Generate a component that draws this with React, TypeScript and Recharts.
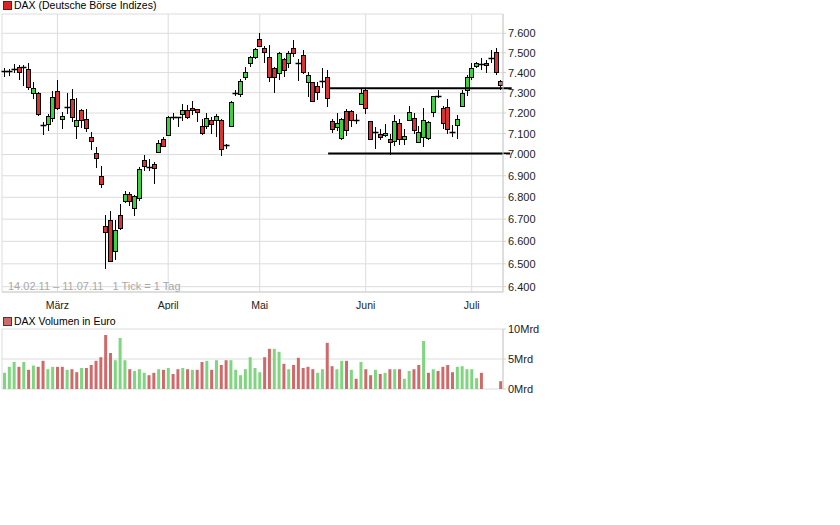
import { Bar, CartesianGrid, Cell, ComposedChart, ReferenceLine, XAxis, YAxis } from "recharts";

// trading days 14.02.11 - 11.07.11
const febDays = [14, 15, 16, 17, 18, 21, 22, 23, 24, 25, 28];
const marDays = [1, 2, 3, 4, 7, 8, 9, 10, 11, 14, 15, 16, 17, 18, 21, 22, 23, 24, 25, 28, 29, 30, 31];
const aprDays = [1, 4, 5, 6, 7, 8, 11, 12, 13, 14, 15, 18, 19, 20, 21, 26, 27, 28, 29];
const mayDays = [2, 3, 4, 5, 6, 9, 10, 11, 12, 13, 16, 17, 18, 19, 20, 23, 24, 25, 26, 27, 30, 31];
const junDays = [1, 2, 3, 6, 7, 8, 9, 10, 13, 14, 15, 16, 17, 20, 21, 22, 23, 24, 27, 28, 29, 30];
const julDays = [1, 4, 5, 6, 7, 8, 11];

const monthTicks = ["01.03.11", "01.04.11", "02.05.11", "01.06.11", "01.07.11"];
const monthNames = ["März", "April", "Mai", "Juni", "Juli"];

const open = [
  7405, 7408, 7412, 7430, 7428, 7417, 7297, 7297, 7140, 7145, 7175, 7310, 7171, 7228, 7267, 7137, 7213, 7172, 7084, 7008,
  6897, 6670, 6697, 6557, 6717, 6781, 6813, 6750, 6797, 6973, 6942, 6953, 7013, 7073, 7092, 7182, 7180, 7197, 7216, 7226,
  7218, 7135, 7137, 7164, 7167, 7168, 7045, 7137, 7300, 7293, 7377, 7450, 7477, 7572, 7522, 7477, 7422, 7397, 7467, 7450,
  7527, 7447, 7488, 7352, 7352, 7333, 7360, 7377, 7161, 7132, 7081, 7210, 7210, 7167, 7244, 7313, 7160, 7110, 7097, 7095,
  7076, 7065, 7152, 7076, 7168, 7176, 7060, 7084, 7081, 7205, 7285, 7226, 7232, 7110, 7140, 7233, 7313, 7377, 7433, 7443,
  7450, 7470, 7505, 7358,
];
const high = [
  7422, 7420, 7445, 7438, 7440, 7447, 7355, 7305, 7156, 7197, 7310, 7363, 7205, 7300, 7317, 7272, 7222, 7222, 7108, 7037,
  6948, 6717, 6735, 6697, 6767, 6828, 6826, 6810, 6940, 6997, 6980, 6965, 7068, 7084, 7184, 7200, 7182, 7245, 7237, 7257,
  7221, 7172, 7200, 7180, 7197, 7170, 7050, 7260, 7313, 7367, 7430, 7483, 7522, 7600, 7533, 7538, 7430, 7505, 7472, 7508,
  7567, 7467, 7513, 7405, 7355, 7355, 7422, 7413, 7173, 7200, 7177, 7221, 7216, 7194, 7322, 7322, 7162, 7132, 7124, 7148,
  7100, 7189, 7173, 7124, 7232, 7200, 7136, 7226, 7160, 7283, 7313, 7232, 7270, 7140, 7189, 7313, 7388, 7447, 7455, 7472,
  7463, 7513, 7527, 7363,
];
const low = [
  7380, 7385, 7400, 7363, 7333, 7313, 7270, 7185, 7092, 7113, 7156, 7213, 7124, 7197, 7156, 7076, 7129, 7108, 7021, 6937,
  6844, 6479, 6508, 6517, 6653, 6774, 6760, 6715, 6782, 6921, 6920, 6863, 7005, 7036, 7087, 7165, 7130, 7160, 7172, 7190,
  7155, 7092, 7124, 7100, 7084, 6992, 7026, 7137, 7283, 7280, 7363, 7430, 7467, 7530, 7450, 7355, 7297, 7363, 7380, 7425,
  7477, 7358, 7393, 7280, 7255, 7263, 7322, 7230, 7103, 7115, 7071, 7087, 7132, 7145, 7238, 7197, 7074, 7024, 7068, 7084,
  6997, 7040, 7044, 7044, 7165, 7097, 7055, 7035, 7071, 7180, 7272, 7124, 7100, 7084, 7076, 7230, 7283, 7363, 7422, 7413,
  7397, 7447, 7388, 7313,
];
const close = [
  7408, 7405, 7417, 7405, 7430, 7330, 7322, 7197, 7135, 7185, 7277, 7227, 7184, 7226, 7180, 7165, 7165, 7129, 7065, 6986,
  6863, 6644, 6511, 6653, 6662, 6813, 6781, 6805, 6932, 6945, 6940, 6937, 7057, 7041, 7180, 7180, 7179, 7216, 7180, 7213,
  7205, 7103, 7177, 7148, 7184, 7026, 7040, 7252, 7300, 7360, 7405, 7477, 7517, 7533, 7502, 7377, 7380, 7497, 7413, 7500,
  7497, 7443, 7405, 7388, 7260, 7305, 7358, 7272, 7124, 7152, 7173, 7116, 7165, 7163, 7297, 7223, 7076, 7108, 7084, 7105,
  7060, 7161, 7073, 7087, 7205, 7116, 7108, 7168, 7154, 7283, 7282, 7152, 7124, 7108, 7173, 7297, 7380, 7422, 7447, 7442,
  7438, 7473, 7405, 7338,
];

// Volumen in Mrd Euro (null = no value shown)
const volume = [
  2.7, 3.7, 4.5, 3.7, 4.5, 3.2, 3.9, 3.7, 4.7, 3.3, 3.7, 3.7, 3.7, 3.2, 3.3, 2.8, 3.5, 3.5, 4.0, 4.7,
  5.3, 9.0, 6.0, 4.8, 8.5, 4.8, 3.3, 3.0, 3.3, 2.7, 2.3, 2.7, 3.3, 3.2, 3.5, 2.5, 3.3, 3.5, 3.3, 3.2,
  3.2, 4.5, 4.7, 3.2, 4.8, 4.0, 4.8, 4.8, 3.2, 2.3, 3.3, 5.3, 3.5, 2.8, 5.3, 6.7, 6.7, 6.2, 4.2, 3.3,
  4.0, 5.2, 3.5, 3.7, 3.3, 2.7, 3.3, 7.7, 3.8, 3.3, 4.7, 4.7, 3.2, 1.7, 4.5, 3.3, 2.3, 3.2, 2.5, 2.7,
  3.3, 3.3, 3.3, 1.7, 3.0, 3.3, 4.0, 8.0, 2.7, 3.3, 3.0, 3.7, 4.0, 2.8, 3.7, 3.8, 3.3, 3.3, 1.8, 2.7,
  null, null, null, 1.3,
];
// g = close above previous close, r = below
const volumeDir =
  "gggrgrgrrggrrgrrgrrrrrrgggrgggrrgrgrrgrgrrgrgrrgggggggrrggrgrrrrrggrrggrgrgrrgrgrgrggrrgrgrrrrgggggr---r";

const priceTicks = [6400, 6500, 6600, 6700, 6800, 6900, 7000, 7100, 7200, 7300, 7400, 7500, 7600];
const volumeTicks = [0, 5, 10];

// hand drawn support / resistance lines (x in trading-day index)
const trendLines = [
  { x1: 67.4, x2: 105.3, y: 7322 },
  { x1: 67.2, x2: 105.0, y: 7005 },
];

const pad = (n: number) => String(n).padStart(2, "0");
const dates = [
  ...febDays.map((d) => `${pad(d)}.02.11`),
  ...marDays.map((d) => `${pad(d)}.03.11`),
  ...aprDays.map((d) => `${pad(d)}.04.11`),
  ...mayDays.map((d) => `${pad(d)}.05.11`),
  ...junDays.map((d) => `${pad(d)}.06.11`),
  ...julDays.map((d) => `${pad(d)}.07.11`),
];

const rows = dates.map((date, i) => ({
  i,
  date,
  o: open[i],
  h: high[i],
  l: low[i],
  c: close[i],
  range: [low[i], high[i]],
  vol: volume[i],
  dir: volumeDir[i],
  live: i === dates.length - 1,
}));

const fmtPrice = (v: number) => `${Math.floor(v / 1000)}.${String(v % 1000).padStart(3, "0")}`;

const GREEN = "#3cd23c";
const RED = "#d93434";
const LIVE = "#d06a6a";

function Candle(props: any) {
  const { x, y, width, height, payload } = props;
  if (!payload || x == null) return null;
  const top = Math.min(y, y + height);
  const h = Math.abs(height);
  const span = payload.h - payload.l || 1;
  const py = (v: number) => top + ((payload.h - v) / span) * h;
  const cx = Math.round(x + width / 2) + 0.5;
  const bTop = Math.round(py(Math.max(payload.o, payload.c))) + 0.5;
  const bBot = Math.round(py(Math.min(payload.o, payload.c))) + 0.5;
  const fill = payload.live ? LIVE : payload.c >= payload.o ? GREEN : RED;
  return (
    <g>
      <line x1={cx} x2={cx} y1={Math.round(top)} y2={Math.round(top + h)} stroke="#000" />
      {bBot - bTop < 1.5 ? (
        <line x1={cx - 3} x2={cx + 3} y1={bTop} y2={bTop} stroke="#000" strokeWidth={1.5} />
      ) : (
        <rect x={cx - 2} y={bTop} width={4} height={bBot - bTop} fill={fill} stroke="#000" />
      )}
    </g>
  );
}

const tickStyle = { fontSize: 11, fill: "#222" };

export default function App() {
  return (
    <div
      style={{
        position: "absolute",
        left: 0,
        top: 0,
        width: 840,
        height: 525,
        background: "#fff",
        fontFamily: "'Liberation Sans', Arial, sans-serif",
      }}
    >
      <div style={{ position: "absolute", left: 3, top: 1, width: 7, height: 7, background: "#e02424", border: "1px solid #602020" }} />
      <div style={{ position: "absolute", left: 14, top: -1, fontSize: 10.5, lineHeight: "12px", color: "#000" }}>
        DAX (Deutsche Börse Indizes)
      </div>

      <div style={{ position: "absolute", left: 0, top: 0 }}>
        <ComposedChart width={545} height={310} data={rows} margin={{ top: 14, right: 0, bottom: 0, left: 2 }}>
          <CartesianGrid stroke="#dcdcdc" />
          <XAxis
            dataKey="date"
            ticks={monthTicks}
            interval={0}
            tickFormatter={(d: string) => monthNames[monthTicks.indexOf(d)] ?? ""}
            tickLine={false}
            axisLine={{ stroke: "#cfcfcf" }}
            tickMargin={4}
            height={18}
            tick={{ fontSize: 10.5, fill: "#222" }}
          />
          <XAxis
            xAxisId="n"
            dataKey="i"
            type="number"
            orientation="top"
            domain={[-0.5, 103.5]}
            allowDataOverflow
            height={0}
            tick={false}
            tickLine={false}
            axisLine={{ stroke: "#cfcfcf" }}
          />
          <YAxis
            orientation="right"
            scale="log"
            domain={[6377, 7700]}
            allowDataOverflow
            ticks={priceTicks}
            interval={0}
            tickFormatter={fmtPrice}
            width={42}
            tickSize={3}
            tickMargin={2}
            tickLine={{ stroke: "#cfcfcf" }}
            axisLine={{ stroke: "#cfcfcf" }}
            tick={tickStyle}
          />
          <YAxis
            yAxisId="l"
            orientation="left"
            scale="log"
            domain={[6377, 7700]}
            allowDataOverflow
            width={0}
            tick={false}
            tickLine={false}
            axisLine={{ stroke: "#cfcfcf" }}
          />
          <Bar dataKey="range" barSize={5} shape={Candle} isAnimationActive={false} />
          {trendLines.map((t, k) => (
            <ReferenceLine
              key={k}
              xAxisId="n"
              segment={[
                { x: t.x1, y: t.y },
                { x: t.x2, y: t.y },
              ]}
              stroke="#000"
              strokeWidth={2}
              ifOverflow="visible"
            />
          ))}
        </ComposedChart>
      </div>

      <div style={{ position: "absolute", left: 8, top: 280, fontSize: 11, lineHeight: "13px", color: "#a8a8a8", whiteSpace: "pre" }}>
        {"14.02.11 – 11.07.11   1 Tick = 1 Tag"}
      </div>

      <div style={{ position: "absolute", left: 3, top: 317, width: 7, height: 7, background: "#d06a6a", border: "1px solid #603030" }} />
      <div style={{ position: "absolute", left: 14, top: 315, fontSize: 10.5, lineHeight: "12px", color: "#000" }}>
        DAX Volumen in Euro
      </div>

      <div style={{ position: "absolute", left: 0, top: 310 }}>
        <ComposedChart width={545} height={90} data={rows} margin={{ top: 19, right: 0, bottom: 11, left: 2 }}>
          <CartesianGrid stroke="#dcdcdc" />
          <XAxis
            dataKey="date"
            ticks={monthTicks}
            interval={0}
            height={0}
            tick={false}
            tickLine={false}
            axisLine={{ stroke: "#cfcfcf" }}
          />
          <YAxis
            orientation="right"
            domain={[0, 10]}
            ticks={volumeTicks}
            interval={0}
            tickFormatter={(v: number) => `${v}Mrd`}
            width={42}
            tickSize={3}
            tickMargin={2}
            tickLine={{ stroke: "#cfcfcf" }}
            axisLine={{ stroke: "#cfcfcf" }}
            tick={tickStyle}
          />
          <YAxis yAxisId="l" orientation="left" domain={[0, 10]} width={0} tick={false} tickLine={false} axisLine={{ stroke: "#cfcfcf" }} />
          <Bar dataKey="vol" barSize={3} isAnimationActive={false}>
            {rows.map((r, k) => (
              <Cell key={k} fill={r.live ? LIVE : r.dir === "g" ? "#7ed67e" : "#d06a6a"} />
            ))}
          </Bar>
        </ComposedChart>
      </div>
    </div>
  );
}
